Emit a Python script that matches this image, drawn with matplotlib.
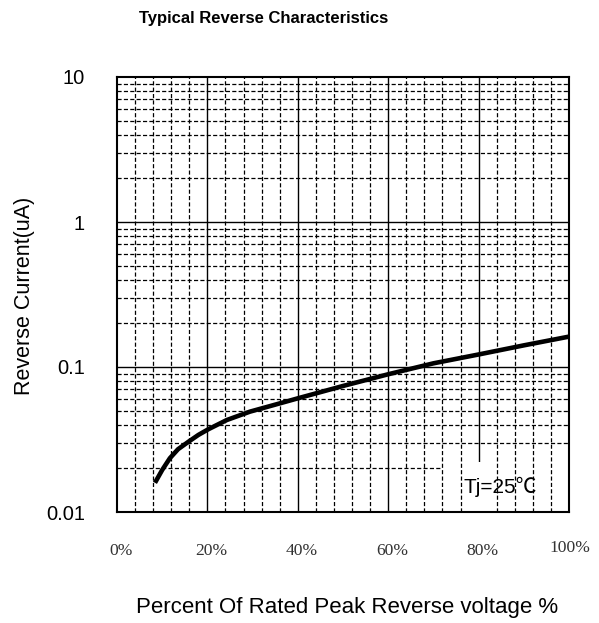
import matplotlib
matplotlib.use('Agg')
import matplotlib.pyplot as plt
import matplotlib.transforms as mtransforms
from matplotlib.patches import Rectangle
import numpy as np

# curve
pct = [8.4, 10, 11.7, 13.5, 15.8, 18, 20.2, 24.3, 29.4, 35, 40, 50, 60, 70, 80, 90, 100]
current = [0.0159, 0.0195, 0.0235, 0.0271, 0.0305, 0.0340, 0.0372, 0.0431, 0.0492, 0.0550,
           0.0608, 0.0740, 0.0891, 0.1060, 0.1220, 0.1410, 0.1620]

xtick_vals = [0, 20, 40, 60, 80, 100]
xtick_labels = ['0%', '20%', '40%', '60%', '80%', '100%']
ytick_vals = [0.01, 0.1, 1, 10]
ytick_labels = ['0.01', '0.1', '1', '10']

plt.rcParams['font.family'] = ['Liberation Sans', 'DejaVu Sans']

fig = plt.figure(figsize=(5.99, 6.23), dpi=100)
ax = fig.add_axes([117/599, 1 - 512/623, 452/599, 435/623])
ax.set_xlim(0, 100)
ax.set_yscale('log')
ax.set_ylim(0.01, 10)

dash = (0, (3.3, 1.8))
# grid: dashed minor, solid major
for v in np.arange(4, 100, 4):
    if v % 20 != 0:
        ax.axvline(v, color='black', lw=0.9, ls=dash, zorder=2.5)
for v in xtick_vals[1:-1]:
    ax.axvline(v, color='black', lw=1.0, zorder=1)
for dec in [0.01, 0.1, 1]:
    for m in range(2, 10):
        ax.axhline(dec * m, color='black', lw=0.9, ls=dash, zorder=1)
for v in ytick_vals[1:-1]:
    ax.axhline(v, color='black', lw=1.0, zorder=1)

ax.plot(pct, current, color='black', lw=3.3, solid_capstyle='butt', zorder=4)

for s in ax.spines.values():
    s.set_linewidth(1.5)
    s.set_zorder(5)

ax.set_xticks([])
ax.set_yticks(ytick_vals)
ax.set_yticklabels(ytick_labels, fontsize=14.5)
ax.minorticks_off()
ax.tick_params(axis='y', length=0, pad=23)

# x labels sit a bit right of the ticks, serif font
trans = mtransforms.blended_transform_factory(ax.transData, fig.transFigure)
for v, lab in zip(xtick_vals, xtick_labels):
    if lab == '100%':
        xx, yy = v + 0.2, 1 - 548/623
    else:
        xx, yy = v + 0.9, 1 - 551/623
    ax.text(xx, yy, lab, transform=trans, ha='center', va='center',
            fontsize=12.6, family='Liberation Serif', color='#333333')

# white label box in the lower right corner
ax.add_patch(Rectangle((0.719, 0.0), 0.281, 0.115, transform=ax.transAxes,
                       facecolor='white', edgecolor='none', zorder=2))
ax.text(0.847, 0.057, 'Tj=25\u2103', transform=ax.transAxes, ha='center', va='center',
        fontsize=15, family=['Liberation Sans', 'Noto Sans CJK SC'], zorder=3)

fig.text(264/599, 1 - 18/623, 'Typical Reverse Characteristics', ha='center', va='center',
         fontsize=12, fontweight='bold')
fig.text(25/599, 1 - 296/623, 'Reverse Current(uA)', rotation=90, ha='center', va='center',
         fontsize=15.5)
fig.text(347/599, 1 - 607/623, 'Percent Of Rated Peak Reverse voltage %', ha='center',
         va='center', fontsize=16)

fig.savefig('out.png', dpi=100)
